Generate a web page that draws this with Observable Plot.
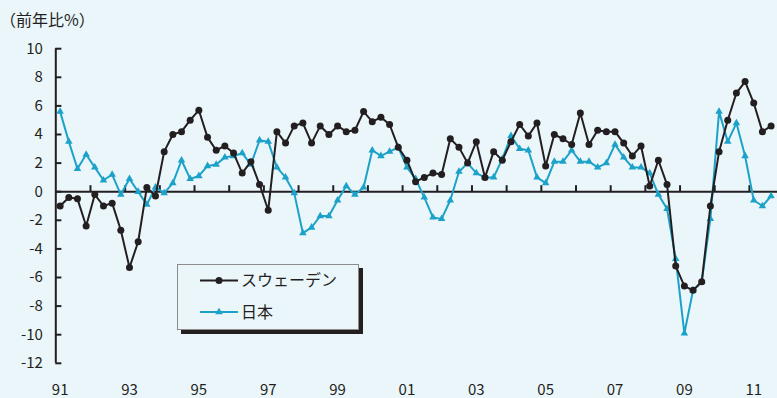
<!DOCTYPE html>
<html>
<head>
<meta charset="utf-8">
<script src="https://cdn.jsdelivr.net/npm/d3@7"></script>
<script src="https://cdn.jsdelivr.net/npm/@observablehq/plot@0.6"></script>
<style>
  html, body { margin: 0; padding: 0; background: #ebf6fb; }
  #wrap { position: relative; width: 777px; height: 398px; background: #ebf6fb;
          font-family: "Noto Sans CJK JP", "Noto Sans", sans-serif; color: #231f20; overflow: hidden; }
  #unit { position: absolute; left: 0; top: 9px; font-size: 16px; line-height: 20px; }
  #chart { position: absolute; left: 0; top: 0; }
  #legend { position: absolute; left: 177px; top: 264px; width: 182px; height: 66px; box-sizing: border-box;
            border: 1px solid #8c8c8c; background: #ebf6fb; box-shadow: 4px 4px 0 #231f20; }
  #legend svg { position: absolute; left: 0; top: 0; }
</style>
</head>
<body>
<div id="wrap">
  <div id="chart"></div>
  <div id="unit">（前年比%）</div>
  <div id="legend"></div>
</div>
<script>
// Quarterly series, 1991 Q1 – 2011 Q3 (year-on-year %)
const startYear = 1991;
const sweden = [
  -1.0, -0.4, -0.5, -2.4, -0.2, -1.0, -0.8, -2.7, -5.3, -3.5,
   0.3, -0.3,  2.8,  4.0,  4.2,  5.0,  5.7,  3.8,  2.9,  3.2,
   2.7,  1.3,  2.1,  0.5, -1.3,  4.2,  3.4,  4.6,  4.8,  3.4,
   4.6,  4.0,  4.6,  4.2,  4.3,  5.6,  4.9,  5.2,  4.7,  3.1,
   2.2,  0.7,  1.0,  1.3,  1.2,  3.7,  3.1,  2.0,  3.5,  1.0,
   2.8,  2.2,  3.5,  4.7,  3.9,  4.8,  1.8,  4.0,  3.7,  3.3,
   5.5,  3.3,  4.3,  4.2,  4.2,  3.4,  2.5,  3.2,  0.4,  2.2,
   0.5, -5.2, -6.6, -6.9, -6.3, -1.0,  2.8,  5.0,  6.9,  7.7,
   6.2,  4.2,  4.6
];
const japan = [
   5.6,  3.5,  1.6,  2.6,  1.7,  0.8,  1.2, -0.2,  0.9,  0.0,
  -0.9,  0.3, -0.1,  0.6,  2.2,  0.9,  1.1,  1.8,  1.9,  2.4,
   2.5,  2.7,  1.9,  3.6,  3.5,  1.7,  1.0, -0.1, -2.9, -2.5,
  -1.7, -1.7, -0.6,  0.4, -0.2,  0.3,  2.9,  2.5,  2.8,  3.1,
   1.7,  0.9, -0.4, -1.8, -1.9, -0.6,  1.4,  2.0,  1.3,  1.0,
   1.0,  2.3,  3.9,  3.0,  2.9,  1.0,  0.6,  2.1,  2.1,  2.9,
   2.1,  2.1,  1.7,  2.0,  3.3,  2.4,  1.7,  1.7,  1.3, -0.2,
  -1.2, -4.7, -9.9, -6.9, -6.3, -1.9,  5.6,  3.5,  4.8,  2.5,
  -0.6, -1.0, -0.3
];
const seriesNames = ["スウェーデン", "日本"];
const seriesColors = ["#231f20", "#1ca2c9"];
const yTicks = [10, 8, 6, 4, 2, 0, -2, -4, -6, -8, -10, -12];
const tickYears = [1991, 1993, 1995, 1997, 1999, 2001, 2003, 2005, 2007, 2009, 2011];
const tickLabels = ["91", "93", "95", "97", "99", "01", "03", "05", "07", "09", "11"];

// each quarter sits in the middle of its quarter-year slot
const t = sweden.map((_, i) => startYear + i / 4 + 0.125);
const swedenRows = t.map((x, i) => ({t: x, v: sweden[i]}));
const japanRows = t.map((x, i) => ({t: x, v: japan[i]}));
const yearBounds = d3.range(startYear + 1, 2012);

const ink = "#231f20";
const chart = Plot.plot({
  width: 777,
  height: 398,
  marginLeft: 55.3,
  marginRight: 0,
  marginTop: 48.2,
  marginBottom: 35.2,
  x: {domain: [startYear, 2011.81], axis: null},
  y: {domain: [-12, 10], axis: null},
  style: {background: "transparent", fontFamily: "'Noto Sans CJK JP', 'Noto Sans', sans-serif", color: ink},
  marks: [
    Plot.axisY({ticks: yTicks, tickSize: 0, tickPadding: 13, fontSize: 15, label: null,
                tickFormat: d => String(d)}),
    Plot.axisX({ticks: tickYears.map(y => y + 0.125), tickSize: 0, tickPadding: 21, fontSize: 15, label: null,
                tickFormat: d => tickLabels[tickYears.indexOf(Math.round(d - 0.125))]}),
    // inward ticks on the value axis
    Plot.ruleY(yTicks, {x1: startYear, x2: startYear + 0.175, stroke: ink, strokeWidth: 2}),
    Plot.ruleX([startYear], {y1: -12, y2: 10, stroke: ink, strokeWidth: 2}),
    Plot.ruleY([0], {stroke: ink, strokeWidth: 2}),
    // year boundaries marked on the zero line
    Plot.ruleX(yearBounds, {y1: 0, y2: 0.42, stroke: ink, strokeWidth: 2}),
    Plot.line(japanRows, {x: "t", y: "v", stroke: seriesColors[1], strokeWidth: 2}),
    Plot.dot(japanRows, {x: "t", y: "v", symbol: "triangle", r: 2.8, fill: seriesColors[1], stroke: "none"}),
    Plot.line(swedenRows, {x: "t", y: "v", stroke: seriesColors[0], strokeWidth: 2}),
    Plot.dot(swedenRows, {x: "t", y: "v", r: 3.5, fill: seriesColors[0], stroke: "none"})
  ]
});
document.getElementById("chart").appendChild(chart);

// legend
const ns = "http://www.w3.org/2000/svg";
const lg = document.createElementNS(ns, "svg");
lg.setAttribute("width", 180);
lg.setAttribute("height", 64);
const rowY = [15.5, 47];
seriesNames.forEach((name, k) => {
  const y = rowY[k];
  const line = document.createElementNS(ns, "line");
  line.setAttribute("x1", 22); line.setAttribute("x2", 60);
  line.setAttribute("y1", y); line.setAttribute("y2", y);
  line.setAttribute("stroke", seriesColors[k]); line.setAttribute("stroke-width", 2);
  lg.appendChild(line);
  let m;
  if (k === 0) {
    m = document.createElementNS(ns, "circle");
    m.setAttribute("cx", 41); m.setAttribute("cy", y); m.setAttribute("r", 3.5);
  } else {
    m = document.createElementNS(ns, "path");
    m.setAttribute("d", d3.symbol(d3.symbolTriangle, 2.8 * 2.8 * Math.PI)());
    m.setAttribute("transform", `translate(41,${y})`);
  }
  m.setAttribute("fill", seriesColors[k]);
  lg.appendChild(m);
  const tx = document.createElementNS(ns, "text");
  tx.setAttribute("x", 63); tx.setAttribute("y", y);
  tx.setAttribute("dy", "0.36em");
  tx.setAttribute("font-size", 16);
  tx.setAttribute("fill", ink);
  tx.setAttribute("font-family", "'Noto Sans CJK JP', sans-serif");
  tx.textContent = name;
  lg.appendChild(tx);
});
document.getElementById("legend").appendChild(lg);
</script>
</body>
</html>
